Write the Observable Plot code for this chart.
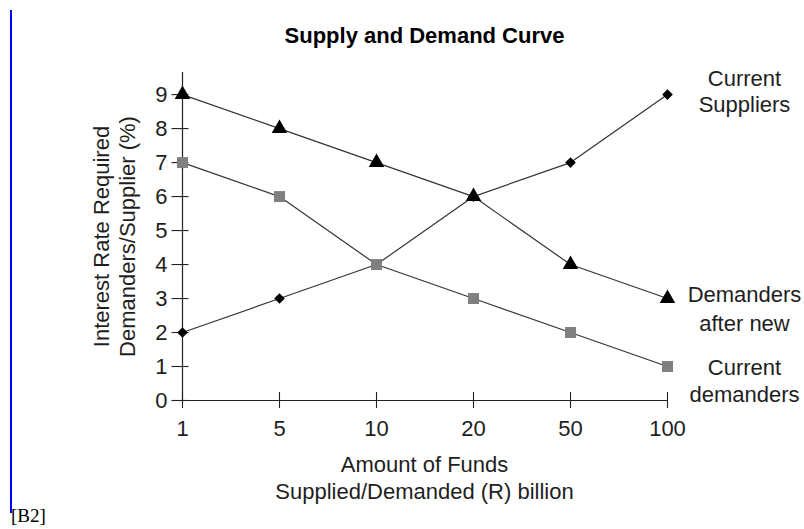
<!DOCTYPE html>
<html>
<head>
<meta charset="utf-8">
<script src="https://cdn.jsdelivr.net/npm/d3@7"></script>
<script src="https://cdn.jsdelivr.net/npm/@observablehq/plot@0.6"></script>
<style>
  html, body { margin: 0; padding: 0; background: #fff; }
  #wrap { position: relative; width: 804px; height: 529px; overflow: hidden; }
  #chart { position: absolute; left: 0; top: 0; }
  #bar { position: absolute; left: 10px; top: 10px; height: 503px; border-left: 2px solid #0000ff; }
  #tag { position: absolute; left: 11px; top: 506px; font-family: "Liberation Serif", "Times New Roman", serif; font-size: 19px; color: #000; line-height: 20px; white-space: nowrap; }
</style>
</head>
<body>
<div id="wrap">
  <div id="chart"></div>
  <div id="bar"></div>
  <div id="tag">[B2]</div>
</div>
<script>
const amounts = ["1", "5", "10", "20", "50", "100"];
const suppliers = [2, 3, 4, 6, 7, 9];
const demandersAfterNew = [9, 8, 7, 6, 4, 3];
const currentDemanders = [7, 6, 4, 3, 2, 1];
const yTicks = [0, 1, 2, 3, 4, 5, 6, 7, 8, 9];
const seriesNames = ["Current\nSuppliers", "Demanders\nafter new", "Current\ndemanders"];

const rows = (vals, name) => amounts.map((a, i) => ({amount: a, rate: vals[i], series: name}));
const sup = rows(suppliers, seriesNames[0]);
const dan = rows(demandersAfterNew, seriesNames[1]);
const cur = rows(currentDemanders, seriesNames[2]);

const font = "'Liberation Sans', Arial, Helvetica, sans-serif";
const ink = "#1e1e1e";
const fs = 22;

const chart = Plot.plot({
  width: 804,
  height: 529,
  marginLeft: 180,
  marginRight: 136,
  marginTop: 72,
  marginBottom: 129,
  style: {fontFamily: font, fontSize: fs + "px", color: ink, background: "#fff"},
  x: {type: "point", domain: amounts, padding: 0},
  y: {domain: [0, 9.65]},
  marks: [
    // axis lines
    Plot.ruleX([amounts[0]], {x: d => d, y1: 0, y2: 9.65, stroke: "#222", strokeWidth: 1.2}),
    Plot.ruleY([0], {y: d => d, x1: () => amounts[0], x2: () => amounts[amounts.length - 1], stroke: "#222", strokeWidth: 1.2}),
    // crossing ticks
    Plot.axisY({ticks: yTicks, tickSize: 17, dx: 8.5, text: null, stroke: "#222", strokeWidth: 1.1, label: null}),
    Plot.axisY({ticks: yTicks, tickSize: 0, tickPadding: 13, label: null, fontSize: fs, fill: ink}),
    Plot.axisX({ticks: amounts, tickSize: 16, dy: -8, text: null, stroke: "#222", strokeWidth: 1.1, label: null}),
    Plot.axisX({ticks: amounts, tickSize: 0, tickPadding: 20, label: null, fontSize: fs, fill: ink}),
    // lines
    Plot.line(sup, {x: "amount", y: "rate", stroke: "#333", strokeWidth: 1.2}),
    Plot.line(dan, {x: "amount", y: "rate", stroke: "#333", strokeWidth: 1.2}),
    Plot.line(cur, {x: "amount", y: "rate", stroke: "#333", strokeWidth: 1.2}),
    // markers
    Plot.dot(sup, {x: "amount", y: "rate", symbol: "diamond2", r: 4.8, fill: "#000", stroke: "none"}),
    Plot.dot(dan, {x: "amount", y: "rate", symbol: "triangle", r: 5.8, fill: "#000", stroke: "none"}),
    Plot.dot(cur, {x: "amount", y: "rate", symbol: "square", r: 6.2, fill: "#808080", stroke: "none"}),
    // series labels
    Plot.text([sup[sup.length - 1]], {x: "amount", y: "rate", text: "series", dx: 77, dy: -4, lineHeight: 1.2, fontSize: fs, fill: ink, textAnchor: "middle", lineAnchor: "middle"}),
    Plot.text([dan[dan.length - 1]], {x: "amount", y: "rate", text: "series", dx: 77, dy: 9, lineHeight: 1.3, fontSize: fs, fill: ink, textAnchor: "middle", lineAnchor: "middle"}),
    Plot.text([cur[cur.length - 1]], {x: "amount", y: "rate", text: "series", dx: 77, dy: 13, lineHeight: 1.25, fontSize: fs, fill: ink, textAnchor: "middle", lineAnchor: "middle"}),
    // title
    Plot.text(["Supply and Demand Curve"], {frameAnchor: "top", dy: -37, text: d => d, fontSize: fs, fontWeight: "bold", fill: "#000", lineAnchor: "middle"}),
    // axis labels
    Plot.text(["Interest Rate Required\nDemanders/Supplier (%)"], {frameAnchor: "left", dx: -67, rotate: -90, text: d => d, fontSize: fs, lineHeight: 1.2, fill: ink, lineAnchor: "middle", textAnchor: "middle"}),
    Plot.text(["Amount of Funds\nSupplied/Demanded (R) billion"], {frameAnchor: "bottom", dy: 76.5, text: d => d, fontSize: fs, lineHeight: 1.22, fill: ink, lineAnchor: "middle", textAnchor: "middle"})
  ]
});
document.getElementById("chart").appendChild(chart);
</script>
</body>
</html>
